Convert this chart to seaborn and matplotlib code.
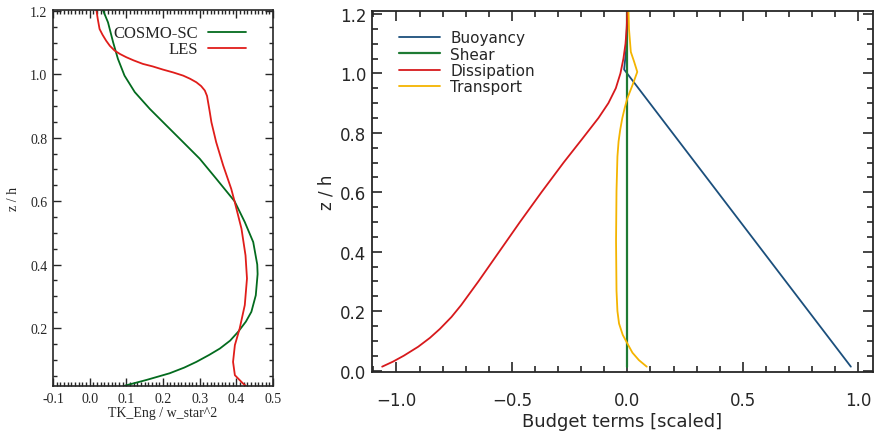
"""TKE profile (COSMO-SC vs LES) and scaled TKE budget terms"""
import numpy as np
import pandas as pd
import seaborn as sns
import matplotlib
import matplotlib.pyplot as plt
from matplotlib.ticker import MultipleLocator, FuncFormatter

matplotlib.use("agg")

# ---- left panel: TKE / w*^2 ----
cosmo_z = [0.018, 0.036, 0.057, 0.075, 0.093, 0.115, 0.135, 0.16, 0.188, 0.22, 0.251,
           0.303, 0.37, 0.4, 0.471, 0.534, 0.6, 0.671, 0.734, 0.786, 0.839, 0.891,
           0.944, 0.996, 1.049, 1.101, 1.164, 1.206]
cosmo_tke = [0.096, 0.155, 0.218, 0.258, 0.291, 0.326, 0.355, 0.383, 0.405, 0.426, 0.441,
             0.453, 0.458, 0.457, 0.446, 0.423, 0.395, 0.345, 0.300, 0.255, 0.209, 0.164,
             0.123, 0.095, 0.077, 0.064, 0.050, 0.035]

les_z = [0.018, 0.025, 0.051, 0.093, 0.146, 0.198, 0.272, 0.356, 0.429, 0.513, 0.6,
         0.639, 0.713, 0.786, 0.849, 0.885, 0.912, 0.932, 0.949, 0.963, 0.975, 0.986,
         0.996, 1.006, 1.015, 1.025, 1.033, 1.044, 1.054, 1.064, 1.075, 1.09, 1.106,
         1.125, 1.143, 1.175, 1.206]
les_tke = [0.425, 0.418, 0.396, 0.391, 0.396, 0.409, 0.423, 0.429, 0.425, 0.414, 0.395,
           0.386, 0.364, 0.345, 0.332, 0.327, 0.323, 0.320, 0.314, 0.304, 0.291, 0.274,
           0.255, 0.228, 0.200, 0.172, 0.145, 0.120, 0.100, 0.083, 0.068, 0.055, 0.045,
           0.035, 0.027, 0.022, 0.018]

# ---- right panel: budget terms ----
buoy_z = [0.013, 1.013, 1.08, 1.21]
buoy = [0.968, -0.014, -0.005, 0.0]

shear_z = [0.013, 1.21]
shear = [0.0, 0.0]

diss_z = [0.013, 0.03, 0.05, 0.08, 0.11, 0.14, 0.18, 0.22, 0.3, 0.4, 0.5, 0.6, 0.7,
          0.78, 0.85, 0.9, 0.95, 1.0, 1.05, 1.1, 1.15, 1.21]
diss = [-1.062, -1.015, -0.968, -0.906, -0.855, -0.812, -0.762, -0.720, -0.645, -0.555,
        -0.465, -0.372, -0.276, -0.195, -0.125, -0.082, -0.050, -0.030, -0.017, -0.008,
        -0.003, 0.0]

trans_z = [0.013, 0.035, 0.06, 0.091, 0.12, 0.158, 0.2, 0.269, 0.436, 0.604, 0.72, 0.771,
           0.81, 0.849, 0.885, 0.916, 0.96, 1.005, 1.04, 1.072, 1.15, 1.21]
trans = [0.084, 0.050, 0.022, 0.0, -0.020, -0.036, -0.043, -0.047, -0.049, -0.047, -0.043,
         -0.038, -0.031, -0.022, -0.011, 0.0, 0.022, 0.043, 0.029, 0.015, 0.007, 0.005]

sns.set_style("ticks")
plt.rcParams["font.family"] = ["DejaVu Sans"]

fig = plt.figure(figsize=(8.79, 4.35), dpi=100)
ax1 = fig.add_axes([0.0603, 0.1097, 0.2503, 0.865])
ax2 = fig.add_axes([0.4232, 0.1425, 0.570, 0.830])

serif = "Liberation Serif"

# left panel
sns.lineplot(x=cosmo_tke, y=cosmo_z, sort=False, estimator=None, ax=ax1,
             color="#036b1e", lw=1.3, label="COSMO-SC")
sns.lineplot(x=les_tke, y=les_z, sort=False, estimator=None, ax=ax1,
             color="#e01d1a", lw=1.3, label="LES")
ax1.set_xlim(-0.1, 0.5)
ax1.set_ylim(0.016, 1.203)
ax1.xaxis.set_major_locator(MultipleLocator(0.1))
ax1.xaxis.set_minor_locator(MultipleLocator(0.01))
ax1.yaxis.set_major_locator(MultipleLocator(0.2))
ax1.yaxis.set_minor_locator(MultipleLocator(0.05))
ax1.xaxis.set_major_formatter(FuncFormatter(lambda v, p: f"{v:.1f}"))
ax1.yaxis.set_major_formatter(FuncFormatter(lambda v, p: f"{v:.1f}"))
ax1.tick_params(which="both", direction="in", top=True, right=True, width=1.0)
ax1.tick_params(which="major", length=6, labelsize=10, pad=4)
ax1.tick_params(which="minor", length=3)
for lab in ax1.get_xticklabels() + ax1.get_yticklabels():
    lab.set_family(serif)
ax1.set_xlabel("TK_Eng / w_star^2", family=serif, fontsize=10, labelpad=1)
ax1.set_ylabel("z / h", family=serif, fontsize=10, labelpad=7)
for s in ax1.spines.values():
    s.set_linewidth(1.2)
ax1.legend(loc="upper right", frameon=False, markerfirst=False,
           prop={"family": serif, "size": 12}, handlelength=2.3, handletextpad=0.6,
           labelspacing=0.0, borderaxespad=0.3, bbox_to_anchor=(0.93, 0.99))

# right panel
sns.lineplot(x=buoy, y=buoy_z, sort=False, estimator=None, ax=ax2,
             color="#1b4f7c", lw=1.3, label="Buoyancy")
sns.lineplot(x=shear, y=shear_z, sort=False, estimator=None, ax=ax2,
             color="#1e7b34", lw=1.6, label="Shear")
sns.lineplot(x=diss, y=diss_z, sort=False, estimator=None, ax=ax2,
             color="#d7191c", lw=1.3, label="Dissipation")
sns.lineplot(x=trans, y=trans_z, sort=False, estimator=None, ax=ax2,
             color="#f4b400", lw=1.3, label="Transport")
ax2.set_xlim(-1.106, 1.064)
ax2.set_ylim(-0.005, 1.21)
ax2.xaxis.set_major_locator(MultipleLocator(0.5))
ax2.xaxis.set_minor_locator(MultipleLocator(0.1))
ax2.yaxis.set_major_locator(MultipleLocator(0.2))
ax2.yaxis.set_minor_locator(MultipleLocator(0.05))
ax2.yaxis.set_major_formatter(FuncFormatter(lambda v, p: f"{v:.1f}"))
ax2.tick_params(which="both", direction="in", top=True, right=True, width=1.2)
ax2.tick_params(axis="x", which="major", length=7, labelsize=12, pad=14)
ax2.tick_params(axis="y", which="major", length=7, labelsize=12, pad=4)
ax2.tick_params(which="minor", length=4)
ax2.set_xlabel("Budget terms [scaled]", fontsize=13, labelpad=2)
ax2.set_ylabel("z / h", fontsize=12, labelpad=3)
for s in ax2.spines.values():
    s.set_linewidth(1.3)
ax2.legend(loc="upper left", frameon=False, fontsize=11, handlelength=2.7,
           handletextpad=0.65, labelspacing=0.08, borderaxespad=0.4,
           bbox_to_anchor=(0.03, 0.98))

plt.savefig("out.png", dpi=100)
